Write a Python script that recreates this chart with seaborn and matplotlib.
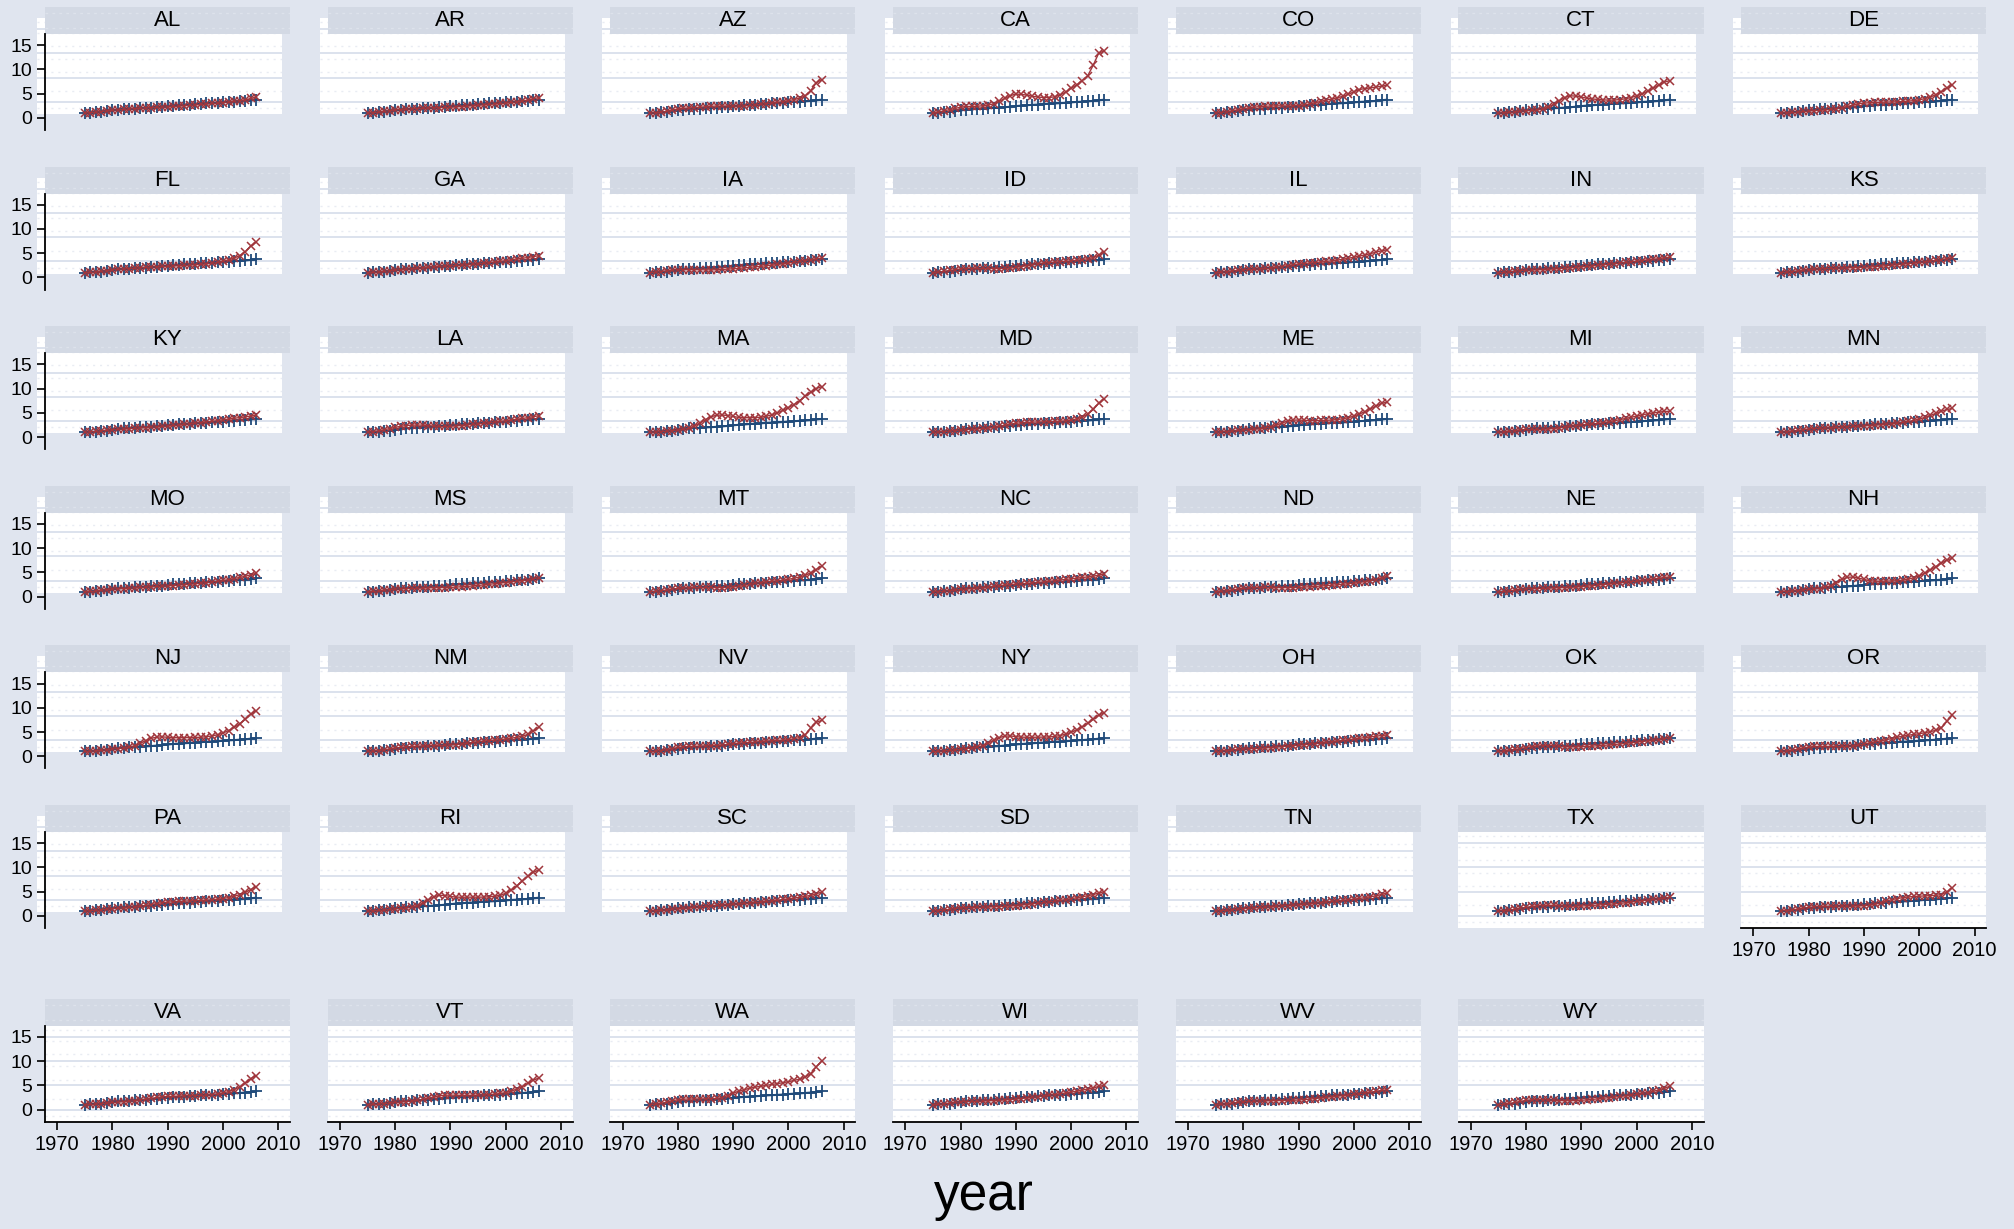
import matplotlib
matplotlib.use("Agg")
import matplotlib.pyplot as plt
import seaborn as sns
import pandas as pd

# ---------------- data ----------------
years = list(range(1975, 2007))

# common price index (blue +)
cpi_index = [1.00, 1.06, 1.13, 1.21, 1.35, 1.53, 1.69, 1.79, 1.85, 1.93, 2.00, 2.04, 2.11, 2.20, 2.30, 2.43,
             2.53, 2.61, 2.69, 2.75, 2.83, 2.92, 2.98, 3.03, 3.10, 3.20, 3.29, 3.34, 3.42, 3.51, 3.63, 3.75]

# state house price index (red x)
al = [1.00, 1.08, 1.17, 1.30, 1.45, 1.58, 1.67, 1.74, 1.82, 1.90, 1.97, 2.05, 2.12, 2.17, 2.22, 2.28,
      2.35, 2.42, 2.50, 2.58, 2.66, 2.76, 2.86, 2.97, 3.06, 3.15, 3.28, 3.42, 3.56, 3.72, 4.00, 4.30]
ar = [1.00, 1.09, 1.19, 1.33, 1.49, 1.63, 1.72, 1.78, 1.86, 1.93, 1.99, 2.05, 2.09, 2.12, 2.15, 2.19,
      2.25, 2.33, 2.41, 2.50, 2.58, 2.68, 2.77, 2.87, 2.97, 3.06, 3.18, 3.32, 3.48, 3.66, 3.94, 4.20]
az = [1.00, 1.06, 1.17, 1.37, 1.62, 1.84, 1.98, 2.05, 2.12, 2.20, 2.30, 2.38, 2.44, 2.45, 2.44, 2.42,
      2.44, 2.48, 2.56, 2.70, 2.80, 2.92, 3.06, 3.22, 3.36, 3.55, 3.78, 4.05, 4.50, 5.60, 7.20, 7.90]
ca = [1.00, 1.20, 1.45, 1.70, 1.95, 2.20, 2.35, 2.35, 2.40, 2.50, 2.65, 2.90, 3.40, 4.00, 4.60, 4.90,
      4.85, 4.70, 4.45, 4.30, 4.20, 4.20, 4.35, 4.75, 5.30, 6.10, 6.80, 7.70, 8.70, 10.90, 13.40, 13.80]
co = [1.00, 1.10, 1.24, 1.44, 1.68, 1.88, 2.05, 2.20, 2.32, 2.40, 2.45, 2.48, 2.48, 2.46, 2.48, 2.55,
      2.68, 2.88, 3.12, 3.40, 3.66, 3.90, 4.15, 4.45, 4.85, 5.40, 5.85, 6.05, 6.20, 6.35, 6.55, 6.70]
ct = [1.00, 1.06, 1.13, 1.23, 1.38, 1.48, 1.55, 1.62, 1.85, 2.20, 2.80, 3.55, 4.20, 4.55, 4.50, 4.30,
      4.05, 3.90, 3.80, 3.72, 3.65, 3.68, 3.78, 3.95, 4.20, 4.55, 4.95, 5.50, 6.10, 6.75, 7.35, 7.70]
de = [1.00, 1.05, 1.11, 1.20, 1.32, 1.42, 1.50, 1.55, 1.64, 1.76, 1.90, 2.08, 2.35, 2.65, 2.90, 3.05,
      3.12, 3.18, 3.22, 3.25, 3.28, 3.32, 3.38, 3.45, 3.55, 3.72, 3.98, 4.30, 4.78, 5.40, 6.20, 6.80]
fl = [1.00, 1.05, 1.13, 1.26, 1.42, 1.58, 1.70, 1.76, 1.84, 1.92, 1.99, 2.07, 2.14, 2.21, 2.28, 2.33,
      2.37, 2.42, 2.48, 2.55, 2.62, 2.70, 2.80, 2.93, 3.10, 3.35, 3.65, 4.00, 4.50, 5.30, 6.50, 7.30]
ga = [1.00, 1.06, 1.14, 1.26, 1.40, 1.53, 1.62, 1.70, 1.79, 1.89, 2.00, 2.12, 2.22, 2.30, 2.37, 2.42,
      2.48, 2.55, 2.63, 2.72, 2.82, 2.94, 3.06, 3.20, 3.33, 3.48, 3.66, 3.82, 3.96, 4.12, 4.32, 4.50]
ia = [1.00, 1.10, 1.22, 1.37, 1.52, 1.60, 1.62, 1.60, 1.60, 1.60, 1.58, 1.57, 1.60, 1.66, 1.73, 1.80,
      1.88, 1.98, 2.08, 2.20, 2.31, 2.43, 2.55, 2.68, 2.82, 2.98, 3.16, 3.34, 3.50, 3.66, 3.84, 4.00]
id_ = [1.00, 1.12, 1.26, 1.44, 1.62, 1.76, 1.84, 1.85, 1.86, 1.87, 1.86, 1.84, 1.84, 1.87, 1.95, 2.08,
       2.25, 2.45, 2.66, 2.85, 2.98, 3.08, 3.16, 3.26, 3.34, 3.42, 3.56, 3.70, 3.86, 4.10, 4.60, 5.30]
il = [1.00, 1.08, 1.18, 1.32, 1.48, 1.60, 1.66, 1.70, 1.78, 1.86, 1.95, 2.08, 2.26, 2.44, 2.62, 2.78,
      2.88, 2.98, 3.08, 3.18, 3.30, 3.44, 3.58, 3.76, 3.96, 4.18, 4.42, 4.66, 4.92, 5.22, 5.52, 5.70]
in_ = [1.00, 1.07, 1.16, 1.29, 1.42, 1.50, 1.54, 1.56, 1.62, 1.68, 1.74, 1.82, 1.90, 1.98, 2.08, 2.18,
       2.28, 2.38, 2.50, 2.62, 2.74, 2.86, 2.98, 3.10, 3.22, 3.36, 3.50, 3.64, 3.76, 3.88, 4.04, 4.20]
ks = [1.00, 1.09, 1.20, 1.34, 1.50, 1.62, 1.70, 1.76, 1.82, 1.87, 1.92, 1.97, 2.00, 2.02, 2.05, 2.10,
      2.16, 2.24, 2.33, 2.42, 2.52, 2.62, 2.73, 2.85, 2.97, 3.10, 3.24, 3.38, 3.52, 3.68, 3.90, 4.10]
ky = [1.00, 1.07, 1.16, 1.28, 1.42, 1.53, 1.60, 1.65, 1.72, 1.80, 1.88, 1.96, 2.04, 2.12, 2.20, 2.30,
      2.40, 2.50, 2.62, 2.75, 2.88, 3.00, 3.12, 3.26, 3.40, 3.56, 3.72, 3.88, 4.02, 4.16, 4.34, 4.50]
la = [1.00, 1.12, 1.28, 1.50, 1.76, 2.00, 2.22, 2.38, 2.46, 2.48, 2.46, 2.38, 2.26, 2.20, 2.20, 2.24,
      2.30, 2.38, 2.48, 2.60, 2.72, 2.84, 2.96, 3.10, 3.24, 3.38, 3.54, 3.68, 3.84, 4.00, 4.22, 4.40]
ma = [1.00, 1.06, 1.13, 1.22, 1.34, 1.48, 1.62, 1.80, 2.30, 2.90, 3.60, 4.20, 4.50, 4.55, 4.45, 4.25,
      4.05, 4.00, 4.00, 4.02, 4.10, 4.30, 4.60, 5.00, 5.50, 6.10, 6.70, 7.50, 8.40, 9.20, 10.00, 10.40]
md = [1.00, 1.06, 1.13, 1.23, 1.35, 1.46, 1.54, 1.60, 1.68, 1.77, 1.88, 2.02, 2.22, 2.45, 2.68, 2.85,
      2.95, 3.02, 3.08, 3.12, 3.15, 3.18, 3.22, 3.28, 3.36, 3.50, 3.75, 4.15, 4.75, 5.70, 7.00, 7.90]
me = [1.00, 1.06, 1.13, 1.23, 1.36, 1.48, 1.56, 1.62, 1.72, 1.88, 2.12, 2.48, 2.90, 3.30, 3.50, 3.52,
      3.45, 3.40, 3.40, 3.42, 3.46, 3.52, 3.62, 3.78, 4.00, 4.32, 4.75, 5.25, 5.80, 6.40, 6.95, 7.20]
mi = [1.00, 1.07, 1.17, 1.32, 1.48, 1.58, 1.60, 1.58, 1.60, 1.66, 1.76, 1.90, 2.06, 2.22, 2.38, 2.50,
      2.60, 2.70, 2.82, 2.98, 3.16, 3.38, 3.60, 3.84, 4.08, 4.34, 4.58, 4.80, 4.98, 5.14, 5.28, 5.30]
mn = [1.00, 1.09, 1.20, 1.36, 1.54, 1.68, 1.76, 1.80, 1.86, 1.92, 1.98, 2.06, 2.14, 2.20, 2.26, 2.32,
      2.38, 2.46, 2.56, 2.66, 2.78, 2.90, 3.04, 3.22, 3.44, 3.72, 4.06, 4.46, 4.90, 5.32, 5.70, 5.90]
mo = [1.00, 1.07, 1.17, 1.31, 1.46, 1.57, 1.64, 1.68, 1.74, 1.82, 1.90, 1.98, 2.06, 2.12, 2.18, 2.24,
      2.30, 2.38, 2.46, 2.56, 2.66, 2.78, 2.90, 3.04, 3.18, 3.34, 3.52, 3.74, 3.96, 4.20, 4.52, 4.80]
ms = [1.00, 1.08, 1.18, 1.32, 1.46, 1.56, 1.62, 1.66, 1.70, 1.74, 1.78, 1.82, 1.84, 1.86, 1.88, 1.92,
      1.98, 2.04, 2.12, 2.22, 2.32, 2.44, 2.56, 2.68, 2.80, 2.92, 3.04, 3.18, 3.32, 3.46, 3.70, 3.90]
mt = [1.00, 1.10, 1.22, 1.38, 1.56, 1.70, 1.80, 1.86, 1.90, 1.92, 1.92, 1.90, 1.88, 1.88, 1.92, 2.00,
      2.14, 2.32, 2.54, 2.76, 2.92, 3.06, 3.18, 3.30, 3.42, 3.58, 3.80, 4.06, 4.40, 4.90, 5.60, 6.30]
nc = [1.00, 1.06, 1.13, 1.24, 1.37, 1.49, 1.58, 1.66, 1.76, 1.88, 2.00, 2.14, 2.28, 2.40, 2.50, 2.58,
      2.66, 2.74, 2.84, 2.94, 3.06, 3.18, 3.30, 3.44, 3.56, 3.68, 3.82, 3.96, 4.08, 4.22, 4.46, 4.70]
nd = [1.00, 1.10, 1.22, 1.38, 1.56, 1.70, 1.78, 1.84, 1.88, 1.90, 1.90, 1.88, 1.86, 1.86, 1.88, 1.92,
      1.98, 2.04, 2.12, 2.20, 2.28, 2.36, 2.46, 2.56, 2.68, 2.80, 2.94, 3.10, 3.30, 3.54, 3.90, 4.20]
ne = [1.00, 1.09, 1.20, 1.34, 1.50, 1.60, 1.66, 1.68, 1.72, 1.76, 1.80, 1.84, 1.88, 1.92, 1.98, 2.06,
      2.16, 2.26, 2.38, 2.50, 2.62, 2.74, 2.86, 2.98, 3.10, 3.22, 3.36, 3.50, 3.64, 3.80, 3.96, 4.10]
nh = [1.00, 1.06, 1.14, 1.25, 1.40, 1.52, 1.60, 1.68, 1.90, 2.30, 2.90, 3.55, 4.00, 4.05, 3.85, 3.55,
      3.30, 3.20, 3.18, 3.20, 3.24, 3.30, 3.42, 3.62, 3.90, 4.30, 4.85, 5.50, 6.20, 6.90, 7.60, 7.90]
nj = [1.00, 1.05, 1.12, 1.22, 1.36, 1.50, 1.60, 1.68, 1.86, 2.18, 2.66, 3.22, 3.70, 3.95, 4.00, 3.92,
      3.84, 3.82, 3.84, 3.86, 3.88, 3.94, 4.04, 4.20, 4.44, 4.80, 5.30, 5.95, 6.70, 7.60, 8.70, 9.40]
nm = [1.00, 1.08, 1.18, 1.33, 1.52, 1.70, 1.84, 1.94, 2.02, 2.08, 2.12, 2.16, 2.20, 2.24, 2.28, 2.34,
      2.42, 2.52, 2.68, 2.86, 3.02, 3.14, 3.24, 3.34, 3.44, 3.56, 3.72, 3.92, 4.16, 4.50, 5.20, 6.00]
nv = [1.00, 1.07, 1.18, 1.36, 1.60, 1.82, 1.96, 2.02, 2.06, 2.10, 2.14, 2.18, 2.22, 2.30, 2.44, 2.60,
      2.72, 2.80, 2.86, 2.94, 3.04, 3.14, 3.22, 3.28, 3.34, 3.44, 3.62, 3.86, 4.40, 5.80, 7.00, 7.40]
ny = [1.00, 1.04, 1.10, 1.20, 1.33, 1.48, 1.60, 1.70, 1.90, 2.22, 2.70, 3.30, 3.85, 4.15, 4.20, 4.05,
      3.95, 3.92, 3.92, 3.94, 3.96, 4.00, 4.10, 4.28, 4.55, 4.95, 5.45, 6.05, 6.80, 7.60, 8.50, 9.00]
oh = [1.00, 1.07, 1.16, 1.29, 1.43, 1.52, 1.56, 1.58, 1.64, 1.72, 1.80, 1.90, 2.00, 2.10, 2.20, 2.30,
      2.40, 2.50, 2.62, 2.74, 2.86, 3.00, 3.14, 3.28, 3.42, 3.56, 3.70, 3.86, 4.00, 4.14, 4.28, 4.40]
ok = [1.00, 1.10, 1.23, 1.40, 1.60, 1.80, 1.98, 2.12, 2.20, 2.22, 2.18, 2.08, 1.96, 1.92, 1.94, 1.98,
      2.04, 2.10, 2.18, 2.26, 2.34, 2.44, 2.54, 2.66, 2.78, 2.90, 3.04, 3.18, 3.32, 3.46, 3.62, 3.80]
or_ = [1.00, 1.11, 1.26, 1.46, 1.70, 1.90, 2.02, 2.04, 2.04, 2.04, 2.04, 2.04, 2.06, 2.14, 2.30, 2.54,
       2.76, 2.96, 3.18, 3.42, 3.66, 3.92, 4.16, 4.34, 4.50, 4.66, 4.86, 5.08, 5.36, 5.90, 7.20, 8.60]
pa = [1.00, 1.06, 1.14, 1.25, 1.38, 1.50, 1.58, 1.64, 1.74, 1.86, 2.00, 2.16, 2.34, 2.54, 2.72, 2.84,
      2.92, 2.98, 3.04, 3.10, 3.14, 3.20, 3.26, 3.34, 3.44, 3.58, 3.78, 4.04, 4.38, 4.84, 5.44, 6.00]
ri = [1.00, 1.05, 1.11, 1.20, 1.34, 1.46, 1.54, 1.62, 1.80, 2.12, 2.62, 3.30, 3.95, 4.25, 4.20, 4.00,
      3.88, 3.84, 3.86, 3.86, 3.86, 3.88, 3.94, 4.06, 4.26, 4.66, 5.30, 6.20, 7.20, 8.20, 9.00, 9.50]
sc = [1.00, 1.06, 1.14, 1.25, 1.38, 1.50, 1.58, 1.66, 1.76, 1.86, 1.96, 2.06, 2.16, 2.24, 2.32, 2.40,
      2.48, 2.56, 2.66, 2.76, 2.86, 2.98, 3.10, 3.24, 3.38, 3.52, 3.68, 3.84, 4.02, 4.22, 4.56, 4.90]
sd = [1.00, 1.09, 1.20, 1.35, 1.52, 1.64, 1.70, 1.72, 1.76, 1.80, 1.84, 1.88, 1.92, 1.98, 2.04, 2.12,
      2.22, 2.34, 2.48, 2.62, 2.76, 2.90, 3.04, 3.20, 3.36, 3.54, 3.74, 3.94, 4.16, 4.40, 4.72, 5.00]
tn = [1.00, 1.06, 1.14, 1.26, 1.40, 1.52, 1.60, 1.66, 1.74, 1.82, 1.90, 1.98, 2.06, 2.14, 2.22, 2.30,
      2.40, 2.50, 2.62, 2.74, 2.86, 2.98, 3.10, 3.22, 3.34, 3.46, 3.60, 3.76, 3.94, 4.14, 4.42, 4.70]
tx = [1.00, 1.09, 1.20, 1.36, 1.56, 1.76, 1.94, 2.06, 2.14, 2.18, 2.18, 2.12, 2.02, 1.98, 2.00, 2.04,
      2.10, 2.16, 2.24, 2.32, 2.40, 2.48, 2.58, 2.70, 2.84, 2.98, 3.12, 3.26, 3.40, 3.52, 3.66, 3.80]
ut = [1.00, 1.10, 1.22, 1.40, 1.60, 1.76, 1.86, 1.92, 1.96, 1.98, 2.00, 2.02, 2.02, 2.02, 2.04, 2.10,
      2.22, 2.40, 2.70, 3.04, 3.34, 3.58, 3.76, 3.90, 4.00, 4.06, 4.12, 4.18, 4.24, 4.40, 4.95, 5.80]
va = [1.00, 1.06, 1.13, 1.23, 1.36, 1.48, 1.56, 1.62, 1.72, 1.84, 1.98, 2.14, 2.32, 2.50, 2.64, 2.70,
      2.74, 2.78, 2.82, 2.86, 2.88, 2.92, 2.98, 3.08, 3.22, 3.42, 3.72, 4.12, 4.66, 5.40, 6.40, 7.00]
vt = [1.00, 1.06, 1.13, 1.23, 1.36, 1.48, 1.56, 1.64, 1.76, 1.92, 2.12, 2.36, 2.62, 2.84, 2.96, 2.98,
      2.96, 2.94, 2.94, 2.96, 2.98, 3.02, 3.08, 3.18, 3.32, 3.52, 3.82, 4.24, 4.76, 5.40, 6.10, 6.50]
wa = [1.00, 1.12, 1.30, 1.55, 1.82, 2.02, 2.14, 2.18, 2.20, 2.20, 2.22, 2.24, 2.30, 2.48, 2.90, 3.40,
      3.80, 4.10, 4.40, 4.62, 4.82, 5.00, 5.18, 5.36, 5.54, 5.76, 6.00, 6.30, 6.70, 7.40, 8.80, 10.00]
wi = [1.00, 1.08, 1.18, 1.32, 1.48, 1.60, 1.66, 1.68, 1.72, 1.76, 1.80, 1.86, 1.92, 1.98, 2.06, 2.16,
      2.28, 2.40, 2.54, 2.68, 2.82, 2.96, 3.10, 3.26, 3.42, 3.60, 3.80, 4.02, 4.24, 4.48, 4.78, 5.00]
wv = [1.00, 1.08, 1.19, 1.34, 1.50, 1.62, 1.70, 1.74, 1.78, 1.80, 1.82, 1.84, 1.86, 1.88, 1.92, 1.98,
      2.06, 2.16, 2.28, 2.40, 2.52, 2.64, 2.76, 2.88, 3.00, 3.14, 3.28, 3.44, 3.60, 3.76, 3.96, 4.10]
wy = [1.00, 1.12, 1.28, 1.48, 1.70, 1.90, 2.02, 2.06, 2.04, 1.98, 1.92, 1.86, 1.82, 1.82, 1.86, 1.92,
      2.00, 2.10, 2.22, 2.34, 2.46, 2.58, 2.70, 2.84, 2.98, 3.14, 3.32, 3.52, 3.76, 4.04, 4.40, 4.80]

states = ["AL", "AR", "AZ", "CA", "CO", "CT", "DE",
          "FL", "GA", "IA", "ID", "IL", "IN", "KS",
          "KY", "LA", "MA", "MD", "ME", "MI", "MN",
          "MO", "MS", "MT", "NC", "ND", "NE", "NH",
          "NJ", "NM", "NV", "NY", "OH", "OK", "OR",
          "PA", "RI", "SC", "SD", "TN", "TX", "UT",
          "VA", "VT", "WA", "WI", "WV", "WY"]
house_prices = [al, ar, az, ca, co, ct, de, fl, ga, ia, id_, il, in_, ks,
                ky, la, ma, md, me, mi, mn, mo, ms, mt, nc, nd, ne, nh,
                nj, nm, nv, ny, oh, ok, or_, pa, ri, sc, sd, tn, tx, ut,
                va, vt, wa, wi, wv, wy]

y_ticks = [0, 5, 10, 15]
x_ticks = [1970, 1980, 1990, 2000, 2010]

# long-form table for seaborn
rows = []
for st, hp in zip(states, house_prices):
    for yr, c, h in zip(years, cpi_index, hp):
        rows.append((st, yr, "cpi", c))
        rows.append((st, yr, "hpi", h))
df = pd.DataFrame(rows, columns=["state", "year", "series", "value"])

# ---------------- style ----------------
sns.set_theme(style="white")
plt.rcParams["font.family"] = ["Liberation Sans", "DejaVu Sans"]

BG = "#e0e5ef"
STRIP = "#d3d9e4"
GRID = "#dce2ed"
BLUE = "#1f4a7a"
RED = "#a0363c"

W, H = 2015, 1229
fig = plt.figure(figsize=(W / 100, H / 100), dpi=100)
fig.patch.set_facecolor(BG)


def rect(left, top, w, h):
    return [left / W, 1 - (top + h) / H, w / W, h / H]


col_left0, col_pitch, ax_w = 45, 282.7, 245
row_top0, row_pitch, ax_h = 34, 159.6, 96
last_row_top = 1025.7
strip_h = 27
xlim = (1967.8, 2012.1)
ylim = (-2.5, 17.3)

for i, st in enumerate(states):
    r, c = divmod(i, 7)
    left = col_left0 + c * col_pitch
    top = last_row_top if r == 6 else row_top0 + r * row_pitch
    aligned = r == 6 or st in ("TX", "UT")
    show_x = r == 6 or st == "UT"
    show_y = c == 0

    # plot region (Stata draws it slightly offset on most panels)
    dx, dy = (0, 0) if aligned else (-8, -16)
    bg = fig.add_axes(rect(left + dx, top + dy, ax_w, ax_h))
    bg.set_facecolor("white")
    bg.set_xlim(xlim)
    bg.set_ylim(ylim)
    for g in y_ticks:
        bg.axhline(g, color=GRID, lw=1.4, zorder=1)
    for g in [-1.3, 2.2, 6.2, 8.9, 11.5, 14.2, 16.4]:
        bg.axhline(g, color="#e9ecf3", lw=1.0, ls=(0, (1.5, 3.5)), zorder=1)
    bg.set_xticks([])
    bg.set_yticks([])
    for sp in bg.spines.values():
        sp.set_visible(False)

    # strip header
    sx = fig.add_axes(rect(left, top - strip_h, ax_w, strip_h))
    sx.set_facecolor(STRIP)
    sx.set_xlim(0, 1)
    sx.set_ylim(0, 1)
    for g in [0.22, 0.78]:
        sx.axhline(g, color="#dde2eb", lw=1.0, ls=(0, (2, 3)))
    sx.set_xticks([])
    sx.set_yticks([])
    for sp in sx.spines.values():
        sp.set_visible(False)
    sx.text(0.5, 0.5, st, ha="center", va="center", fontsize=16, color="black")

    # data
    ax = fig.add_axes(rect(left, top, ax_w, ax_h))
    ax.patch.set_alpha(0)
    sub = df[df["state"] == st]
    sns.lineplot(data=sub[sub["series"] == "cpi"], x="year", y="value", ax=ax,
                 color=BLUE, linewidth=1.5, marker="+", markersize=8.5,
                 markeredgecolor=BLUE, markeredgewidth=1.3, zorder=3)
    sns.lineplot(data=sub[sub["series"] == "hpi"], x="year", y="value", ax=ax,
                 color=RED, linewidth=1.0, marker="x", markersize=5.5,
                 markeredgecolor=RED, markeredgewidth=1.1, zorder=4)
    ax.set_xlim(xlim)
    ax.set_ylim(ylim)
    ax.set_xlabel("")
    ax.set_ylabel("")
    for sp in ["top", "right"]:
        ax.spines[sp].set_visible(False)
    ax.spines["left"].set_visible(show_y)
    ax.spines["bottom"].set_visible(show_x)
    for sp in ["left", "bottom"]:
        ax.spines[sp].set_color("black")
        ax.spines[sp].set_linewidth(1.3)
    if show_y:
        ax.set_yticks(y_ticks)
        ax.tick_params(axis="y", length=6, width=1.2, pad=3, labelsize=14, colors="black", left=True)
    else:
        ax.set_yticks([])
    if show_x:
        ax.set_xticks(x_ticks)
        ax.tick_params(axis="x", length=5.5, width=1.2, pad=4, labelsize=14.5, colors="black", bottom=True)
    else:
        ax.set_xticks([])

fig.text(984 / W, 1 - 1210 / H, "year", ha="center", va="baseline", fontsize=37, color="black")

fig.savefig("out.png", dpi=100, facecolor=BG)
